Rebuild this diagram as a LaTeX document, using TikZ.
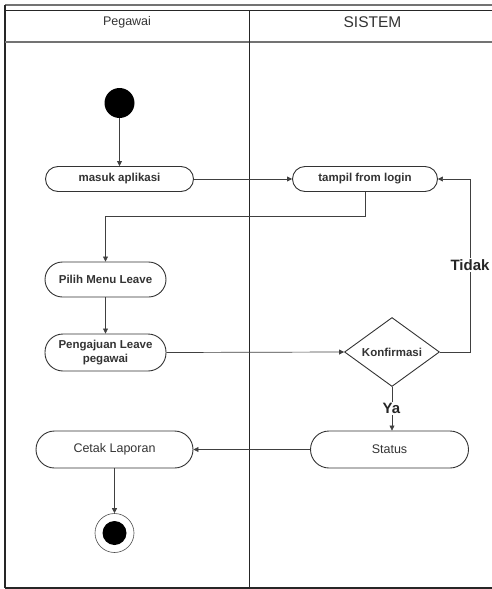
\documentclass[tikz,border=0pt]{standalone}
\usepackage{fontspec}
\setmainfont{Liberation Sans}
\usetikzlibrary{arrows.meta,shapes.geometric}
\begin{document}
\begin{tikzpicture}[x=1pt,y=-1pt,
  act/.style={draw=black!80, line width=0.9pt, rounded corners=#1, inner sep=0pt, align=center,
    text=black!80, font=\fontsize{11.5}{13.8}\selectfont\bfseries},
  actr/.style={act=#1, font=\fontsize{12.5}{14.5}\selectfont},
  flow/.style={draw=black!75, line width=0.7pt, -{Triangle[length=5pt,width=5pt]}},
  lane/.style={draw=black!85, line width=1.5pt},
  thin/.style={draw=black!55, line width=1.2pt},
  guard/.style={fill=white, inner sep=1pt, text=black!85, font=\fontsize{15}{17}\selectfont\bfseries}
]
\useasboundingbox (0,0) rectangle (492,589);
% frame
\draw[thin] (5,5) -- (492,5);
\draw[lane] (5,10.5) -- (492,10.5);
\draw[lane] (5,5) -- (5,588);
\draw[lane] (5,588) -- (492,588);
\draw[thin] (5,42) -- (492,42);
\draw[lane] (249.5,10.5) -- (249.5,588);
\node[text=black!80, font=\fontsize{12.5}{14}\selectfont] (hpeg) at (127,22) {Pegawai};
\node[text=black!80, font=\fontsize{15.5}{17}\selectfont] (hsis) at (372.5,22) {SISTEM};
% nodes
\node[circle, fill=black, minimum size=30pt, inner sep=0pt] (start) at (119.5,103) {};
\node[act=12.5pt, minimum width=148pt, minimum height=25pt] (masuk) at (119.5,179) {masuk aplikasi};
\node[act=12.5pt, minimum width=145pt, minimum height=25pt] (tampil) at (365,179) {tampil from login};
\node[act=17.5pt, minimum width=121pt, minimum height=35pt] (pilih) at (105.5,279.5) {Pilih Menu Leave};
\node[act=18pt, minimum width=121pt, minimum height=37pt] (peng) at (105.5,352.5) {Pengajuan Leave\\pegawai};
\node[diamond, draw=black!80, line width=0.9pt, minimum width=95pt, minimum height=69pt, aspect=1.38,
  inner sep=0pt, text=black!80, font=\fontsize{11.5}{13.8}\selectfont\bfseries] (konf) at (392,352) {Konfirmasi};
\node[actr=18.5pt, minimum width=158pt, minimum height=37pt] (status) at (389.5,449.5) {Status};
\node[actr=18.5pt, minimum width=157pt, minimum height=37pt] (cetak) at (114.5,449.5) {Cetak Laporan};
\node[circle, draw=black!70, line width=0.6pt, minimum size=39pt, inner sep=0pt] (end) at (114.5,533) {};
\fill[black] (end.center) circle (12pt);
% connectors
\draw[flow] (start) -- (masuk);
\draw[flow] (masuk) -- (tampil);
\draw[flow] (tampil.south) -- ++(0,24) -| (pilih.north);
\draw[flow] (pilih) -- (peng);
\draw[flow] (peng.east) -- (konf.west);
\draw[flow] (konf.east) -- ++(30.5,0) |- (tampil.east);
\node[guard] (tidak) at (470,265) {Tidak};
\draw[flow] (konf.south) -- (konf.south |- status.north);
\node[guard] (ya) at (391.5,408.5) {Ya};
\draw[flow] (status.west) -- (cetak.east);
\draw[flow] (cetak.south) -- (end.north);
\end{tikzpicture}
\end{document}
